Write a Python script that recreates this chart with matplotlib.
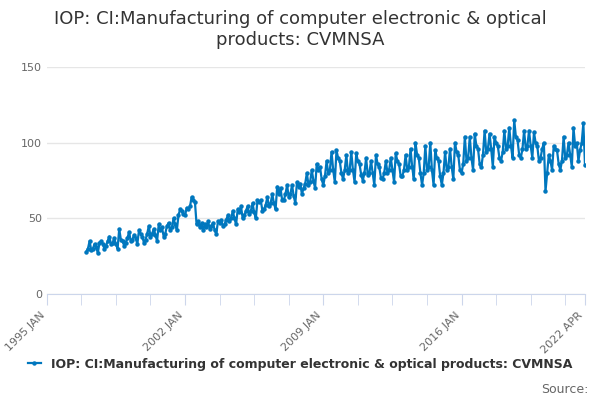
import matplotlib
matplotlib.use("Agg")
import matplotlib.pyplot as plt
import numpy as np

start_year = 1997
values = [
 # 1997
 28, 30, 35, 29, 30, 33, 31, 27, 34, 35, 33, 30,
 # 1998
 32, 35, 38, 33, 34, 37, 33, 30, 43, 36, 35, 32,
 # 1999
 34, 37, 41, 35, 36, 39, 37, 33, 42, 40, 38, 34,
 # 2000
 36, 40, 45, 38, 40, 43, 39, 35, 46, 42, 44, 38,
 # 2001
 40, 45, 47, 42, 44, 50, 46, 42, 52, 56, 55, 53,
 # 2002
 52, 57, 56, 58, 64, 62, 61, 46, 48, 44, 47, 42,
 # 2003
 46, 44, 48, 43, 45, 47, 42, 40, 48, 47, 49, 45,
 # 2004
 46, 49, 52, 48, 50, 55, 50, 46, 56, 54, 58, 50,
 # 2005
 52, 55, 58, 53, 55, 60, 54, 50, 62, 61, 62, 55,
 # 2006
 56, 59, 64, 58, 60, 66, 60, 56, 71, 66, 70, 62,
 # 2007
 62, 66, 72, 64, 66, 72, 65, 60, 74, 71, 73, 66,
 # 2008
 70, 73, 80, 72, 74, 82, 75, 70, 86, 82, 84, 76,
 # 2009
 72, 78, 88, 80, 82, 94, 82, 74, 95, 90, 88, 80,
 # 2010
 76, 82, 92, 80, 82, 94, 82, 74, 93, 88, 86, 79,
 # 2011
 75, 80, 90, 79, 80, 88, 80, 72, 92, 86, 84, 77,
 # 2012
 76, 80, 88, 80, 82, 90, 82, 74, 93, 88, 86, 78,
 # 2013
 78, 82, 92, 82, 84, 96, 84, 76, 100, 92, 90, 80,
 # 2014
 72, 80, 98, 82, 84, 100, 82, 72, 95, 90, 88, 78,
 # 2015
 72, 80, 94, 82, 84, 96, 84, 76, 100, 94, 92, 82,
 # 2016
 80, 86, 104, 88, 90, 104, 90, 82, 106, 98, 96, 86,
 # 2017
 84, 92, 108, 94, 96, 106, 96, 84, 104, 100, 98, 90,
 # 2018
 88, 94, 108, 96, 98, 110, 98, 90, 115, 104, 102, 92,
 # 2019
 90, 96, 108, 96, 98, 108, 98, 90, 107, 100, 98, 88,
 # 2020
 90, 96, 100, 68, 80, 92, 88, 82, 98, 96, 95, 86,
 # 2021
 82, 88, 104, 90, 92, 100, 92, 84, 110, 98, 100, 88,
 # 2022
 95, 100, 113, 85,
]
dates = np.array([start_year + i / 12 for i in range(len(values))])

tick_pos = [1995.0, 2002.0, 2009.0, 2016.0, 2022.25]
tick_labels = ["1995 JAN", "2002 JAN", "2009 JAN", "2016 JAN", "2022 APR"]

fig = plt.figure(figsize=(6, 4), dpi=100)
ax = fig.add_axes([0.078, 0.265, 0.897, 0.567])
color = "#0077be"
ax.plot(dates, values, color=color, lw=1.6, marker="o", ms=2.2,
        label="IOP: CI:Manufacturing of computer electronic & optical products: CVMNSA")
ax.set_xlim(1995.0, 2022.25)
ax.set_ylim(0, 150)
ax.set_yticks([0, 50, 100, 150])
ax.grid(axis="y", color="#e6e6e6", lw=1)
ax.set_axisbelow(True)
for s in ["top", "right", "left"]:
    ax.spines[s].set_visible(False)
ax.spines["bottom"].set_color("#ccd6eb")
ax.tick_params(axis="y", length=0, labelsize=8, colors="#666666")
ax.set_xticks(tick_pos)
ax.set_xticklabels(tick_labels, rotation=45, ha="right", fontsize=8, color="#666666")
ax.tick_params(axis="x", length=8, color="#ccd6eb")
minor = [1995 + k * 1.75 for k in range(1, 16)]
ax.set_xticks(minor, minor=True)
ax.tick_params(axis="x", which="minor", length=8, color="#ccd6eb")

fig.suptitle("IOP: CI:Manufacturing of computer electronic & optical\nproducts: CVMNSA",
             y=0.975, fontsize=13, color="#333333")
fig.legend(loc="lower center", bbox_to_anchor=(0.5, 0.045), frameon=False,
           prop={"size": 9, "weight": "bold"}, labelcolor="#333333", handlelength=1.0)
fig.text(0.98, 0.01, "Source:", ha="right", va="bottom", fontsize=9, color="#666666")
fig.savefig("out.png", dpi=100)
